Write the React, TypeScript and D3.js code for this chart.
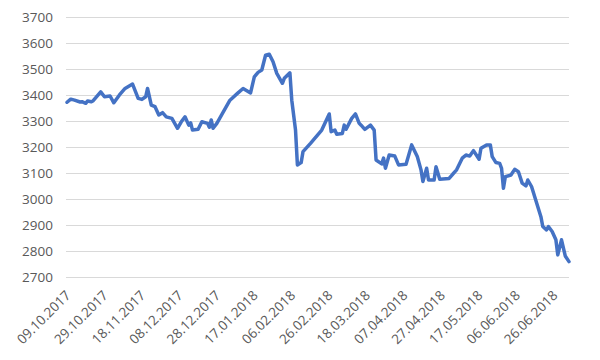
import * as d3 from 'd3';
import { useEffect, useRef } from 'react';

// readings of the index, dd.mm.yyyy
const dates = [
  '09.10.2017', '11.10.2017', '13.10.2017', '16.10.2017', '17.10.2017', '19.10.2017', '20.10.2017',
  '22.10.2017', '23.10.2017', '27.10.2017', '29.10.2017', '01.11.2017', '03.11.2017', '06.11.2017',
  '09.11.2017', '13.11.2017', '16.11.2017', '18.11.2017', '20.11.2017', '21.11.2017', '23.11.2017',
  '25.11.2017', '27.11.2017', '29.11.2017', '01.12.2017', '04.12.2017', '07.12.2017', '09.12.2017',
  '11.12.2017', '13.12.2017', '14.12.2017', '15.12.2017', '18.12.2017', '20.12.2017', '23.12.2017',
  '24.12.2017', '25.12.2017', '26.12.2017', '28.12.2017', '31.12.2017', '04.01.2018', '08.01.2018',
  '11.01.2018', '15.01.2018', '17.01.2018', '19.01.2018', '21.01.2018', '23.01.2018', '25.01.2018',
  '27.01.2018', '29.01.2018', '01.02.2018', '02.02.2018', '05.02.2018', '06.02.2018', '08.02.2018',
  '09.02.2018', '11.02.2018', '12.02.2018', '16.02.2018', '22.02.2018', '26.02.2018', '27.02.2018',
  '01.03.2018', '02.03.2018', '05.03.2018', '06.03.2018', '07.03.2018', '10.03.2018', '12.03.2018',
  '14.03.2018', '15.03.2018', '17.03.2018', '20.03.2018', '22.03.2018', '23.03.2018', '26.03.2018',
  '27.03.2018', '28.03.2018', '30.03.2018', '02.04.2018', '04.04.2018', '08.04.2018', '11.04.2018',
  '14.04.2018', '16.04.2018', '17.04.2018', '19.04.2018', '20.04.2018', '23.04.2018', '24.04.2018',
  '26.04.2018', '01.05.2018', '03.05.2018', '05.05.2018', '08.05.2018', '10.05.2018', '12.05.2018',
  '14.05.2018', '17.05.2018', '18.05.2018', '21.05.2018', '23.05.2018', '24.05.2018', '26.05.2018',
  '28.05.2018', '29.05.2018', '30.05.2018', '31.05.2018', '03.06.2018', '05.06.2018', '07.06.2018',
  '09.06.2018', '11.06.2018', '12.06.2018', '14.06.2018', '19.06.2018', '20.06.2018', '22.06.2018',
  '23.06.2018', '25.06.2018', '27.06.2018', '28.06.2018', '30.06.2018', '02.07.2018', '04.07.2018',
];

const values = [
  3374, 3386, 3382, 3375, 3376, 3370, 3379,
  3376, 3380, 3414, 3395, 3398, 3372, 3402,
  3427, 3444, 3389, 3385, 3395, 3427, 3363,
  3357, 3325, 3334, 3318, 3312, 3274, 3299,
  3318, 3286, 3295, 3267, 3270, 3299, 3293,
  3278, 3306, 3274, 3293, 3331, 3382, 3408,
  3427, 3410, 3472, 3489, 3498, 3555, 3559,
  3530, 3485, 3447, 3466, 3487, 3382, 3267,
  3133, 3142, 3184, 3216, 3267, 3329, 3261,
  3267, 3251, 3254, 3286, 3270, 3312, 3329,
  3293, 3286, 3270, 3286, 3267, 3152, 3137,
  3159, 3120, 3171, 3167, 3133, 3136, 3210,
  3165, 3114, 3069, 3120, 3075, 3075, 3126,
  3078, 3081, 3098, 3114, 3159, 3171, 3167,
  3188, 3155, 3197, 3210, 3210, 3165, 3142,
  3139, 3120, 3043, 3088, 3094, 3116, 3107,
  3063, 3052, 3075, 3050, 2934, 2896, 2883,
  2896, 2877, 2845, 2787, 2845, 2783, 2761,
];

const yTicks = [2700, 2800, 2900, 3000, 3100, 3200, 3300, 3400, 3500, 3600, 3700];

const xTickLabels = [
  '09.10.2017', '29.10.2017', '18.11.2017', '08.12.2017', '28.12.2017', '17.01.2018', '06.02.2018',
  '26.02.2018', '18.03.2018', '07.04.2018', '27.04.2018', '17.05.2018', '06.06.2018', '26.06.2018',
];

const domainStart = '09.10.2017';
const domainEnd = '04.07.2018';

export default function App() {
  const ref = useRef<SVGSVGElement>(null);

  useEffect(() => {
    const svg = d3.select(ref.current);
    svg.selectAll('*').remove();

    const parse = d3.timeParse('%d.%m.%Y');
    const data = dates.map((d, i) => ({ date: parse(d) as Date, value: values[i] }));

    const x = d3.scaleTime()
      .domain([parse(domainStart) as Date, parse(domainEnd) as Date])
      .range([67, 569]);
    const y = d3.scaleLinear().domain([2700, 3700]).range([277.5, 17.5]);

    const font = "'Open Sans', 'Liberation Sans', sans-serif";

    // gridlines
    svg.append('g')
      .selectAll('line')
      .data(yTicks)
      .enter().append('line')
      .attr('x1', 66)
      .attr('x2', 569)
      .attr('y1', d => y(d))
      .attr('y2', d => y(d))
      .attr('stroke', '#d9d9d9')
      .attr('stroke-width', 1);

    // y labels
    svg.append('g')
      .selectAll('text')
      .data(yTicks)
      .enter().append('text')
      .attr('x', 53)
      .attr('y', d => y(d))
      .attr('dy', '0.35em')
      .attr('text-anchor', 'end')
      .attr('font-family', font)
      .attr('font-size', 13.5)
      .attr('fill', '#595959')
      .text(d => d);

    // x labels, rotated
    svg.append('g')
      .selectAll('text')
      .data(xTickLabels)
      .enter().append('text')
      .attr('transform', d => `translate(${x(parse(d) as Date) + 1},${293}) rotate(-45)`)
      .attr('text-anchor', 'end')
      .attr('dy', '0.35em')
      .attr('font-family', font)
      .attr('font-size', 13.5)
      .attr('fill', '#595959')
      .text(d => d);

    const line = d3.line<{ date: Date; value: number }>()
      .x(d => x(d.date))
      .y(d => y(d.value));

    svg.append('path')
      .datum(data)
      .attr('d', line)
      .attr('fill', 'none')
      .attr('stroke', '#4472c4')
      .attr('stroke-width', 3.5)
      .attr('stroke-linejoin', 'round')
      .attr('stroke-linecap', 'round');
  }, []);

  return (
    <svg
      ref={ref}
      width={600}
      height={360}
      style={{ position: 'absolute', left: 0, top: 0, background: '#fff' }}
    />
  );
}
